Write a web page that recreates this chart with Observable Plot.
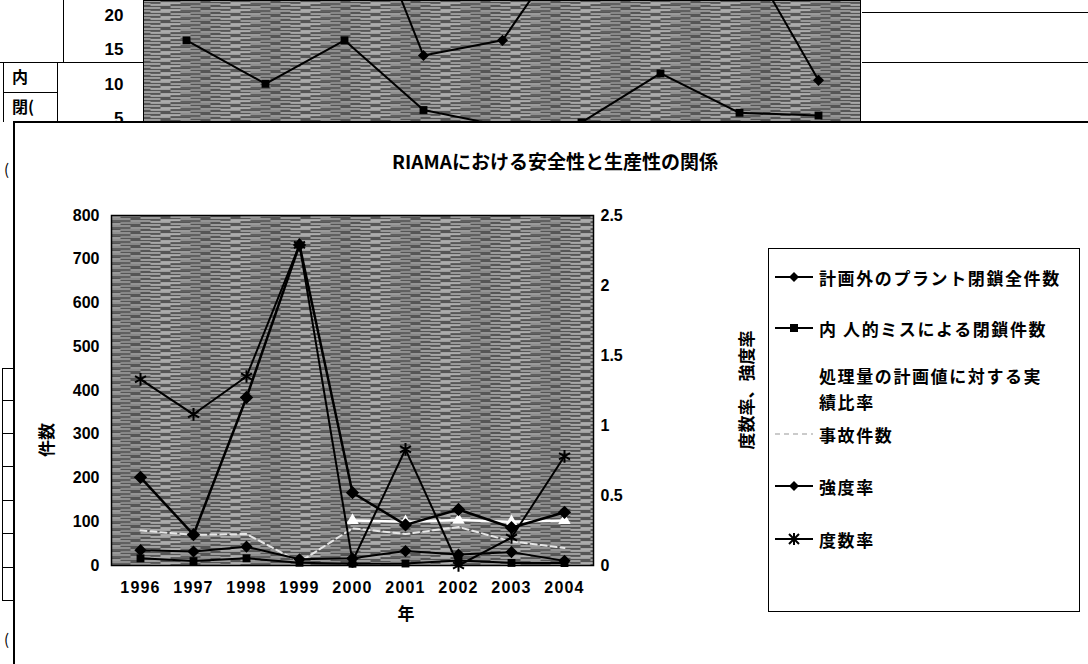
<!DOCTYPE html>
<html><head><meta charset="utf-8">
<script src="https://cdn.jsdelivr.net/npm/d3@7"></script>
<script src="https://cdn.jsdelivr.net/npm/@observablehq/plot@0.6"></script>
<style>
body{margin:0;background:#fff;}
#root{position:relative;width:1088px;height:664px;overflow:hidden;background:#fff;font-family:"Noto Sans CJK JP","Noto Sans",sans-serif;color:#000;}
.hl{position:absolute;height:0;border-top:1.5px solid #000;}
.vl{position:absolute;width:0;border-left:1.5px solid #000;}
#panel{position:absolute;left:13px;top:121px;width:1100px;height:600px;border:2px solid #000;background:#fff;}
.lbl{position:absolute;font-weight:700;font-size:17px;white-space:nowrap;}
#legend{position:absolute;left:768px;top:248px;width:310px;height:362px;border:1.5px solid #000;background:#fff;}
.item{position:absolute;left:0;font-weight:700;font-size:17px;letter-spacing:1.6px;white-space:nowrap;}
.item svg{position:absolute;left:6px;top:5px;}
.item span{position:absolute;left:50px;top:0;}
</style></head>
<body><div id="root"></div>
<script>
// ---- data ----
const years = [1996, 1997, 1998, 1999, 2000, 2001, 2002, 2003, 2004];
const unplannedShutdowns = [35, 32, 43, 14.2, 16.4, 33, 25, 30.6, 10.6];     // 計画外のプラント閉鎖全件数
const humanErrorShutdowns = [16.4, 10.1, 16.4, 6.3, 4, 4.5, 11.6, 5.9, 5.5];  // 内 人的ミスによる閉鎖件数
const throughputRatio = [null, null, null, null, 103, 100, 104, 100, 103];    // 処理量の計画値に対する実績比率
const accidents = [80, 70, 72, 8, 85, 72, 88, 55, 40];                        // 事故件数
const severityRate = [0.63, 0.22, 1.2, 2.29, 0.52, 0.29, 0.4, 0.27, 0.38];     // 強度率 (right axis)
const frequencyRate = [1.33, 1.08, 1.35, 2.29, 0.03, 0.83, 0, 0.2, 0.78];     // 度数率 (right axis)
const leftTicks = [0, 100, 200, 300, 400, 500, 600, 700, 800];
const rightTicks = [0, 0.5, 1, 1.5, 2, 2.5];
const topTicks = [5, 10, 15, 20];
const seriesNames = ["計画外のプラント閉鎖全件数", "内 人的ミスによる閉鎖件数", "処理量の計画値に対する実績比率", "事故件数", "強度率", "度数率"];
const title = "RIAMAにおける安全性と生産性の関係";
const leftLabel = "件数", rightLabel = "度数率、強度率", xLabel = "年";

const leftMax = 800, rightMax = 2.5, k = leftMax / rightMax;
const rows = (vals, f = 1) => years.map((y, i) => ({year: y, v: vals[i] == null ? NaN : vals[i] * f}));
const valid = d => !isNaN(d.v);

const root = document.getElementById("root");
const NS = "http://www.w3.org/2000/svg";
// fill texture imitating the scanned grey plot area (horizontal broken streaks)
function addHatch(svg, id) {
  const P = 70, L = 20, offs = [0, 40, 20, 60, 10, 50, 30], shades = ["#e4e4e4", "#c8c8c8", "#f0f0f0", "#d2d2d2", "#e8e8e8", "#bcbcbc", "#dedede"];
  let segs = "";
  offs.forEach((o, r) => {
    const a = Math.min(L, P - o);
    segs += `<rect x="${o}" y="${r}" width="${a}" height="1" fill="${shades[r]}"/>`;
    if (a < L) segs += `<rect x="0" y="${r}" width="${L - a}" height="1" fill="${shades[r]}"/>`;
  });
  const defs = document.createElementNS(NS, "defs");
  defs.innerHTML = `<pattern id="${id}" width="${P}" height="7" patternUnits="userSpaceOnUse">
    <rect width="${P}" height="7" fill="#555"/>
    <rect y="3" width="${P}" height="1" fill="#6a6a6a"/>${segs}
  </pattern>`;
  svg.prepend(defs);
}
const fontStack = "'Liberation Sans', Arial, sans-serif";

// ---- background (partially hidden) chart ----
const topSvg = Plot.plot({
  width: 1088, height: 125,
  marginLeft: 143, marginRight: 228, marginTop: 0, marginBottom: 0,
  style: {fontFamily: fontStack, fontSize: "17px", fontWeight: "bold", color: "#000", background: "transparent", overflow: "visible"},
  x: {type: "point", domain: years, padding: 0.5, axis: null},
  y: {domain: [5, 20], range: [118.5, 15]},
  marks: [
    Plot.frame({fill: "url(#hatchTop)", stroke: "#000", strokeWidth: 1}),
    Plot.axisY(topTicks, {tickSize: 0, tickPadding: 20, label: null}),
    Plot.line(rows(unplannedShutdowns), {x: "year", y: "v", stroke: "#000", strokeWidth: 2, clip: true}),
    Plot.line(rows(humanErrorShutdowns), {x: "year", y: "v", stroke: "#000", strokeWidth: 2, clip: true}),
    Plot.dot(rows(unplannedShutdowns), {x: "year", y: "v", symbol: "diamond2", r: 5, fill: "#000", clip: true}),
    Plot.dot(rows(humanErrorShutdowns), {x: "year", y: "v", symbol: "square2", r: 5, fill: "#000", clip: true})
  ]
});
addHatch(topSvg, "hatchTop");
topSvg.style.position = "absolute"; topSvg.style.left = "0px"; topSvg.style.top = "0px";
root.appendChild(topSvg);

// table fragments behind the chart window
const deco = [
  ["vl", 63, 0, 0, 62], ["hl", 0, 62, 143, 0], ["hl", 862, 62, 226, 0], ["hl", 862, 12, 226, 0],
  ["vl", 3, 62, 0, 60], ["vl", 57, 62, 0, 60], ["hl", 3, 92, 54, 0],
  ["vl", 2, 368, 0, 232], ["hl", 2, 368, 11, 0], ["hl", 2, 400, 11, 0], ["hl", 2, 433, 11, 0],
  ["hl", 2, 466, 11, 0], ["hl", 2, 500, 11, 0], ["hl", 2, 533, 11, 0], ["hl", 2, 567, 11, 0], ["hl", 2, 600, 11, 0]
];
for (const [c, x, y, w, h] of deco) {
  const d = document.createElement("div"); d.className = c;
  d.style.left = x + "px"; d.style.top = y + "px";
  if (c === "hl") d.style.width = w + "px"; else d.style.height = h + "px";
  root.appendChild(d);
}
const cellText = [["内", 12, 64], ["閉(", 12, 94]];
for (const [t, x, y] of cellText) {
  const d = document.createElement("div"); d.className = "lbl"; d.textContent = t;
  d.style.left = x + "px"; d.style.top = y + "px"; d.style.fontSize = "16px";
  root.appendChild(d);
}
for (const y of [158, 628]) {
  const d = document.createElement("div"); d.className = "lbl"; d.textContent = "(";
  d.style.left = "4px"; d.style.top = y + "px"; d.style.fontSize = "15px"; d.style.fontWeight = "400";
  root.appendChild(d);
}

// ---- chart window ----
const panel = document.createElement("div"); panel.id = "panel"; root.appendChild(panel);

const mainSvg = Plot.plot({
  width: 1088, height: 664,
  marginLeft: 111, marginRight: 495, marginTop: 215, marginBottom: 99,
  style: {fontFamily: fontStack, fontSize: "16px", fontWeight: "bold", color: "#000", background: "transparent", overflow: "visible"},
  x: {type: "point", domain: years, padding: 0.5},
  y: {domain: [0, leftMax]},
  marks: [
    Plot.frame({fill: "url(#hatchMain)", stroke: "#000", strokeWidth: 1.5}),
    Plot.axisY(leftTicks, {anchor: "left", tickSize: 0, tickPadding: 12, label: null}),
    Plot.axisY(rightTicks.map(t => t * k), {anchor: "right", tickSize: 0, tickPadding: 7, label: null,
      tickFormat: d => String(+(d / k).toFixed(2))}),
    Plot.axisX({tickSize: 0, tickPadding: 16, label: null, tickFormat: d => String(d)}),
    // 事故件数 (dashed light)
    Plot.line(rows(accidents), {x: "year", y: "v", stroke: "#e6e6e6", strokeWidth: 2, strokeDasharray: "6,4"}),
    // 処理量の計画値に対する実績比率 (white)
    Plot.line(rows(throughputRatio), {x: "year", y: "v", stroke: "#ffffff", strokeWidth: 2.5}),
    Plot.dot(rows(throughputRatio).filter(valid), {x: "year", y: "v", symbol: "triangle2", r: 6, fill: "#ffffff"}),
    // counts
    Plot.line(rows(unplannedShutdowns), {x: "year", y: "v", stroke: "#000", strokeWidth: 2}),
    Plot.dot(rows(unplannedShutdowns), {x: "year", y: "v", symbol: "diamond2", r: 5.5, fill: "#000"}),
    Plot.line(rows(humanErrorShutdowns), {x: "year", y: "v", stroke: "#000", strokeWidth: 2}),
    Plot.dot(rows(humanErrorShutdowns), {x: "year", y: "v", symbol: "square2", r: 5, fill: "#000"}),
    // rates on right axis
    Plot.line(rows(severityRate, k), {x: "year", y: "v", stroke: "#000", strokeWidth: 2.5}),
    Plot.dot(rows(severityRate, k), {x: "year", y: "v", symbol: "diamond2", r: 6, fill: "#000"}),
    Plot.line(rows(frequencyRate, k), {x: "year", y: "v", stroke: "#000", strokeWidth: 2}),
    Plot.dot(rows(frequencyRate, k), {x: "year", y: "v", symbol: "asterisk", r: 6, stroke: "#000", strokeWidth: 2})
  ]
});
addHatch(mainSvg, "hatchMain");
mainSvg.querySelectorAll('[aria-label="x-axis tick label"] text').forEach(t => t.style.letterSpacing = "1.2px");
mainSvg.style.position = "absolute"; mainSvg.style.left = "0px"; mainSvg.style.top = "0px";
root.appendChild(mainSvg);

// title & axis labels
function label(text, x, y, rot, size) {
  const d = document.createElement("div"); d.className = "lbl"; d.textContent = text;
  d.style.fontSize = size + "px";
  d.style.left = x + "px"; d.style.top = y + "px";
  d.style.transform = `translate(-50%,-50%) rotate(${rot}deg)`;
  root.appendChild(d);
}
label(title, 555, 160, 0, 19);
label(leftLabel, 45, 440, -90, 17);
label(rightLabel, 745, 390, -90, 17);
label(xLabel, 406, 612, 0, 17);

// legend
const legend = document.createElement("div"); legend.id = "legend"; root.appendChild(legend);
const swatch = {
  0: `<line x1="0" y1="7" x2="38" y2="7" stroke="#000" stroke-width="2"/><path d="M19,2 L24,7 L19,12 L14,7Z" fill="#000"/>`,
  1: `<line x1="0" y1="7" x2="38" y2="7" stroke="#000" stroke-width="2"/><rect x="15" y="3" width="8" height="8" fill="#000"/>`,
  2: ``,
  3: `<line x1="0" y1="7" x2="38" y2="7" stroke="#bbb" stroke-width="1.5" stroke-dasharray="5,4"/>`,
  4: `<line x1="0" y1="7" x2="38" y2="7" stroke="#000" stroke-width="2"/><path d="M19,2 L24,7 L19,12 L14,7Z" fill="#000"/>`,
  5: `<line x1="0" y1="7" x2="38" y2="7" stroke="#000" stroke-width="2"/><path d="M14,2 L24,12 M24,2 L14,12 M19,1 L19,13" stroke="#000" stroke-width="2"/>`
};
const itemTops = [16, 67, 114, 173, 225, 278];
seriesNames.forEach((name, i) => {
  const it = document.createElement("div"); it.className = "item";
  it.style.top = itemTops[i] + "px";
  const text = i === 2
    ? `<span>処理量の計画値に対する実</span><span style="top:26px">績比率</span>`
    : `<span>${name}</span>`;
  it.innerHTML = `<svg width="40" height="14">${swatch[i]}</svg>${text}`;
  legend.appendChild(it);
});
</script>
</body></html>
